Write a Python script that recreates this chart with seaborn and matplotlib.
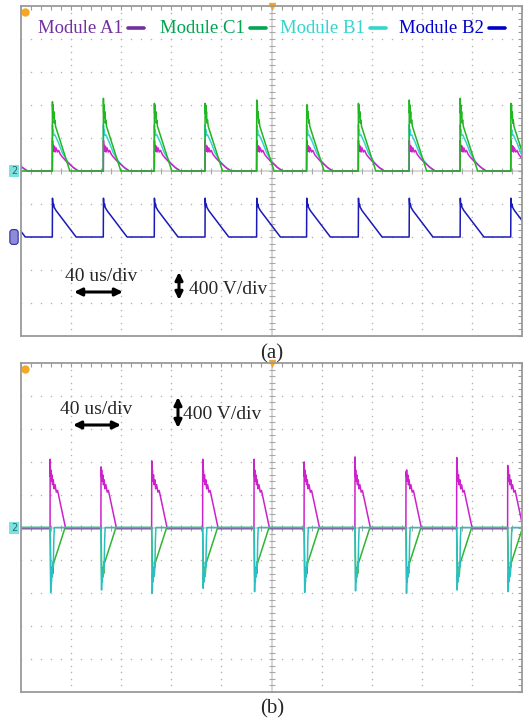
import numpy as np
import pandas as pd
import seaborn as sns
import matplotlib.pyplot as plt
from matplotlib.lines import Line2D

W, H = 529, 722          # output size in px
T_SPAN, V_SPAN = 400, 2000   # 40 us/div x 10, 400 V/div x 5 each side

# ---- panel (a): pulse start times (us) and waveform shapes
PULSE_T_A = [-15.6, 25.0, 65.7, 106.4, 146.9, 188.1, 228.0, 269.3, 309.9, 350.6, 391.0]
C1_PEAK_A = [840, 840, 881, 820, 820, 860, 800, 820, 860, 881, 820]

A1_A_T = [0, 0.15, 0.4, 0.8, 1.2, 1.7, 2.2, 3, 4, 5, 6.5, 8, 11, 14, 17, 21]
A1_A_V = [0, 370, 240, 310, 240, 300, 230, 280, 230, 250, 200, 170, 120, 80, 40, 0]
C1_A_T = [0, 0.1, 0.3, 0.6, 0.9, 1.2, 1.6, 2.0, 2.6, 14]
C1_A_V = [0, 860, 700, 800, 640, 720, 580, 620, 540, 0]
B1_A_T = [0, 0.1, 0.4, 0.8, 1.2, 2, 5, 8, 12, 16, 20]
B1_A_V = [0, 560, 440, 500, 430, 440, 340, 220, 120, 50, 0]
B2_A_T = [0, 0.15, 0.5, 1.0, 1.5, 3, 19]
B2_A_V = [0, 470, 370, 400, 360, 320, 0]
B2_OFFSET = -800   # channel B2 sits 2 div below

# ---- panel (b)
PULSE_T_B = [23.2, 63.8, 104.3, 145.0, 186.0, 226.0, 266.6, 307.3, 347.8, 388.5]
A1_PEAK_B = [830, 737, 810, 830, 830, 797, 858, 676, 851, 754]
B1_PEAK_B = [-790, -760, -800, -740, -780, -790, -770, -800, -760, -780]

A1_B_T = [0, 0.1, 0.3, 0.6, 1.0, 1.5, 2.0, 2.6, 3.2, 4.0, 5.0, 6.0, 12.5]
A1_B_V = [-15, 830, 620, 700, 560, 640, 520, 580, 470, 520, 430, 450, -15]
C1_B_T = [0, 0.3, 0.6, 1.0, 1.4, 1.8, 2.2, 2.7, 12]
C1_B_V = [0, -200, -640, -520, -600, -480, -560, -440, 0]
B1_B_T = [0, 0.2, 0.5, 0.8, 1.1, 1.4, 1.8, 2.2, 2.6, 3.0, 3.4]
B1_B_V = [0, -300, -790, -560, -660, -500, -600, -420, -480, -150, 0]

COLORS = {"A1": "#cc22cc", "C1": "#22b622", "B1": "#38d2d2", "B2": "#1a1ab8"}
COLORS_B = {"A1": "#cc22cc", "C1": "#2fb52f", "B1": "#2cbfbf"}


def trace(starts, t_off, shape, peaks=None, peak_idx=1, base=0, offset=0):
    ts, vs = [-60], [base]
    for i, t0 in enumerate(starts):
        v = list(shape)
        if peaks is not None:
            v[peak_idx] = peaks[i]
        ts += [t0 + o for o in t_off]
        vs += v
    ts.append(T_SPAN + 10)
    vs.append(base)
    return pd.DataFrame({"t": ts, "v": np.array(vs) + offset})


def frame(parts):
    out = []
    for name, d in parts:
        d = d.copy()
        d["ch"] = name
        out.append(d)
    return pd.concat(out, ignore_index=True)


df_a = frame([
    ("B2", trace(PULSE_T_A, B2_A_T, B2_A_V, offset=B2_OFFSET)),
    ("A1", trace(PULSE_T_A, A1_A_T, A1_A_V)),
    ("B1", trace(PULSE_T_A, B1_A_T, B1_A_V)),
    ("C1", trace(PULSE_T_A, C1_A_T, C1_A_V, peaks=C1_PEAK_A)),
])
df_b = frame([
    ("A1", trace(PULSE_T_B, A1_B_T, A1_B_V, peaks=A1_PEAK_B, base=-15)),
    ("C1", trace(PULSE_T_B, C1_B_T, C1_B_V)),
    ("B1", trace(PULSE_T_B, B1_B_T, B1_B_V, peaks=B1_PEAK_B, peak_idx=2)),
])

sns.set_style("white")
plt.rcParams["font.family"] = ["Liberation Serif", "DejaVu Serif"]

fig = plt.figure(figsize=(W / 100, H / 100), dpi=100)


def fx(px):
    return px / W


def fy(py):
    return 1 - py / H


def scope_axes(top, bottom):
    ax = fig.add_axes([fx(21), fy(bottom), fx(522) - fx(21), fy(top) - fy(bottom)])
    ax.set_xlim(0, T_SPAN)
    ax.set_ylim(-V_SPAN, V_SPAN)
    ax.set_xticks([])
    ax.set_yticks([])
    ax.set_xticks(np.arange(0, T_SPAN + 1, 8), minor=True)
    ax.set_yticks(np.arange(-V_SPAN, V_SPAN + 1, 80), minor=True)
    ax.tick_params(which="minor", direction="in", length=3, width=0.8,
                   color="#9a9a9a", top=True, right=True,
                   labelbottom=False, labelleft=False)
    for s in ax.spines.values():
        s.set_color("#9a9a9a")
        s.set_linewidth(1.3)
    dot = dict(ls="none", marker="o", ms=1.1, mew=0, color="#b4b4b4", zorder=0)
    ys = np.arange(-V_SPAN, V_SPAN + 1, 80)
    xs = np.arange(0, T_SPAN + 1, 8)
    for gx in range(40, T_SPAN, 40):
        if gx != 200:
            ax.plot([gx] * len(ys), ys, **dot)
    for gy in range(-1600, V_SPAN, 400):
        if gy != 0:
            ax.plot(xs, [gy] * len(xs), **dot)
    ax.axvline(200, color="#cfcfcf", lw=1.2, zorder=0)
    ax.axhline(0, color="#cfcfcf", lw=1.2, zorder=0)
    ax.plot([200] * len(ys), ys, ls="none", marker="_", ms=5, mew=0.8,
            color="#a8a8a8", zorder=0)
    ax.plot(xs, [0] * len(xs), ls="none", marker="|", ms=5, mew=0.8,
            color="#a8a8a8", zorder=0)
    return ax


ax_a = scope_axes(6, 336)
ax_b = scope_axes(363, 692)

sns.lineplot(data=df_a, x="t", y="v", hue="ch", hue_order=["B2", "B1", "A1", "C1"],
             palette=COLORS, sort=False, estimator=None, lw=1.1, legend=False, ax=ax_a)
sns.lineplot(data=df_b, x="t", y="v", hue="ch", hue_order=["A1", "C1", "B1"],
             palette=COLORS_B, sort=False, estimator=None, lw=1.1, legend=False, ax=ax_b)
for ax in (ax_a, ax_b):
    ax.set_xlabel("")
    ax.set_ylabel("")
    # orange marker top-left and trigger marker top-centre
    ax.plot([3], [1930], marker="o", ms=5, color="#f5a623", clip_on=False)
    ax.plot([200], [V_SPAN], marker="v", ms=5, color="#f5a623", clip_on=False)

# legend written on the screen of panel (a)
legend = [("Module A1", "#7030a0", 38, 128), ("Module C1", "#00a550", 160, 250),
          ("Module B1", "#33d6cc", 280, 370), ("Module B2", "#0000cc", 399, 489)]
for label, col, x0, lx in legend:
    fig.text(fx(x0), fy(33), label, color=col, fontsize=13.5, va="baseline", ha="left")
    fig.add_artist(Line2D([fx(lx), fx(lx + 16)], [fy(28), fy(28)], color=col, lw=2.6))

# channel markers
fig.text(fx(14), fy(171), "2", fontsize=7, color="#207070", ha="center", va="center",
         family="DejaVu Sans",
         bbox=dict(boxstyle="square,pad=0.15", fc="#7fe0e0", ec="none"))
fig.text(fx(14), fy(237), " ", fontsize=7, ha="center", va="center",
         bbox=dict(boxstyle="round,pad=0.3", fc="#8c8cd8", ec="#3030a0", lw=0.8))
fig.text(fx(14), fy(528), "2", fontsize=7, color="#207070", ha="center", va="center",
         family="DejaVu Sans",
         bbox=dict(boxstyle="square,pad=0.15", fc="#7fe0e0", ec="none"))

arrow = dict(arrowstyle="<|-|>,head_length=0.45,head_width=0.22", lw=2.2,
             color="black", shrinkA=0, shrinkB=0)


def scale_note(tx, ty, vx, vy, hx0, hx1, hy, ax_x, ay0, ay1):
    fig.text(fx(tx), fy(ty), "40 us/div", fontsize=14, va="baseline", ha="left")
    fig.text(fx(vx), fy(vy), "400 V/div", fontsize=14, va="baseline", ha="left")
    fig.add_artist(plt.Annotation("", xy=(fx(hx1), fy(hy)), xytext=(fx(hx0), fy(hy)),
                                  xycoords="figure fraction", arrowprops=arrow))
    fig.add_artist(plt.Annotation("", xy=(fx(ax_x), fy(ay1)), xytext=(fx(ax_x), fy(ay0)),
                                  xycoords="figure fraction", arrowprops=arrow))


scale_note(65, 281, 189, 294, 74, 123, 292, 179, 272, 300)
scale_note(60, 414, 183, 419, 73, 121, 425, 178, 397, 428)

fig.text(fx(272), fy(358), "(a)", fontsize=15, ha="center", va="baseline")
fig.text(fx(272), fy(713), "(b)", fontsize=15, ha="center", va="baseline")

fig.savefig("out.png", dpi=100)
